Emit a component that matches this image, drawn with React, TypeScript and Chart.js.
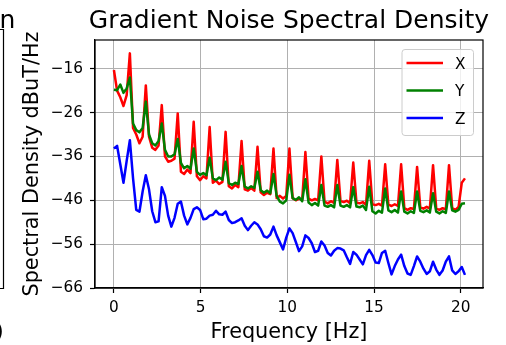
import React, { useEffect, useRef } from 'react';
import { Chart, registerables } from 'chart.js';

Chart.register(...registerables);

const FREQ = [
  0, 0.184, 0.368, 0.552, 0.736, 0.92, 1.104, 1.288, 1.472, 1.656,
  1.84, 2.024, 2.208, 2.392, 2.576, 2.76, 2.944, 3.128, 3.312, 3.496,
  3.68, 3.864, 4.048, 4.232, 4.416, 4.6, 4.784, 4.968, 5.152, 5.336,
  5.52, 5.704, 5.888, 6.072, 6.256, 6.44, 6.624, 6.808, 6.992, 7.176,
  7.36, 7.544, 7.728, 7.912, 8.096, 8.28, 8.464, 8.648, 8.832, 9.016,
  9.2, 9.384, 9.568, 9.752, 9.936, 10.12, 10.304, 10.488, 10.672, 10.856,
  11.04, 11.224, 11.408, 11.592, 11.776, 11.96, 12.144, 12.328, 12.512, 12.696,
  12.88, 13.064, 13.248, 13.432, 13.616, 13.8, 13.984, 14.168, 14.352, 14.536,
  14.72, 14.904, 15.088, 15.272, 15.456, 15.64, 15.824, 16.008, 16.192, 16.376,
  16.56, 16.744, 16.928, 17.112, 17.296, 17.48, 17.664, 17.848, 18.032, 18.216,
  18.4, 18.584, 18.768, 18.952, 19.136, 19.32, 19.504, 19.688, 19.872, 20.056,
  20.24,
];

const X_SERIES = [
  -16.3, -21, -22.5, -24.5, -22, -12.5, -29.5, -31, -33, -31.5,
  -19.8, -31.5, -34, -34.5, -33.5, -24.3, -36, -37.2, -37, -36.5,
  -26.2, -39.5, -40, -39, -39.8, -28.1, -40.5, -41.4, -40.5, -41,
  -29.3, -42, -41.5, -42.3, -41.8, -30.4, -42.8, -43.3, -42.5, -43,
  -32.5, -43.5, -43.8, -43.2, -43.8, -33.8, -44.2, -44.8, -44.3, -44.6,
  -34.2, -45.5, -45, -45.6, -45, -34.2, -45.5, -46, -45.6, -45.9,
  -35, -45.6, -46, -45.7, -46, -36, -46.3, -46.7, -46.2, -46.6,
  -36.8, -46.2, -46.4, -46.1, -46.7, -37.4, -46.5, -46.7, -46.4, -47,
  -37, -46.9, -47.1, -46.8, -47.2, -37.8, -47, -47.3, -46.9, -47.3,
  -37.8, -47.8, -48.2, -47.8, -48, -38.4, -47.6, -47.9, -47.5, -47.9,
  -38, -47.9, -48.2, -47.8, -48.1, -38, -47.8, -48.2, -47.5, -42,
  -41,
];

const Y_SERIES = [
  -20.8, -20.9, -19.6, -21.5, -20.5, -18, -28.5, -30, -30.5, -29.5,
  -23.5, -31, -33, -33.5, -32.5, -28.5, -34.5, -36, -36, -35.5,
  -32, -37.5, -38.7, -38.2, -38.8, -34.2, -39.5, -40.2, -39.8, -40.3,
  -36.3, -41, -41.4, -40.8, -41.3, -37.2, -42.1, -42.5, -42, -42.3,
  -38.2, -42.9, -43.3, -42.8, -43.2, -39.5, -43.7, -44.3, -43.8, -44.4,
  -40, -45, -46.3, -46.7, -46, -40.2, -45.5, -45.9, -45.3, -46.2,
  -41.2, -46.5, -47.1, -46.6, -47.2, -42.5, -47.2, -47.5, -47.1, -47.6,
  -42.5, -47.2, -47.5, -47.1, -47.6, -43, -47.4, -47.6, -47.2, -48.2,
  -42.9, -48.5, -49, -48.4, -48.8, -43.3, -48.3, -48.7, -48.2, -48.8,
  -44, -48.6, -49, -48.5, -48.9, -44, -48.4, -48.7, -48.3, -48.8,
  -44.4, -48.6, -49, -48.5, -48.9, -44, -48.3, -48.6, -48.2, -46.8,
  -46.7,
];

const Z_SERIES = [
  -34.2, -33.6, -37.8, -42, -37, -32.3, -41, -48.2, -48.6, -44,
  -40.3, -43.5, -48.5, -51, -50.8, -43, -45, -49.5, -52, -50,
  -46.8, -46.3, -49.5, -51.5, -50, -48, -47.6, -48.2, -50.3, -50.2,
  -49.5, -49.3, -48.4, -49.2, -49.3, -48.6, -50.5, -51.2, -51, -50.6,
  -50.1, -51.8, -52.8, -51.8, -51, -51.5, -52.6, -54.2, -54.5, -53.8,
  -52, -54, -55.6, -57.2, -54.5, -52.4, -53.5, -55.5, -57.6, -56.5,
  -54, -54.6, -55.8, -57.8, -57.5, -55.4, -56.3, -58, -58.6, -57.5,
  -56.9, -57, -57.4, -59, -60.5, -57.8, -58.4, -59.5, -60.6, -58.5,
  -57.3, -58.5, -60.2, -60.3, -58, -57.5, -60.3, -62.9, -61, -59.5,
  -58.4, -61, -62.7, -63, -61, -58.8, -60, -61.6, -62.8, -62.2,
  -60, -61.8, -63, -62, -60, -58.8, -62, -62.8, -62.2, -61.2,
  -63,
];

const X_TICKS = [0, 5, 10, 15, 20];
const Y_TICKS = [-66, -56, -46, -36, -26, -16];
const SERIES_LABELS = ['X', 'Y', 'Z'];
const SERIES_COLORS = ['#ff0000', '#008000', '#0000ff'];
const TITLE = 'Gradient Noise Spectral Density';
const X_LABEL = 'Frequency [Hz]';
const Y_LABEL = 'Spectral Density dBuT/Hz';
const PREV_TITLE_TAIL = 'n';
const PREV_LABEL_TAIL = ')';

const FONT = '"DejaVu Sans", sans-serif';

const decorPlugin = {
  id: 'decor',
  afterDraw(chart: any) {
    const { ctx, chartArea: a } = chart;
    ctx.save();
    ctx.strokeStyle = '#000';
    ctx.lineWidth = 1.2;
    ctx.strokeRect(a.left, a.top, a.right - a.left, a.bottom - a.top);

    ctx.fillStyle = '#000';
    ctx.textBaseline = 'alphabetic';
    ctx.font = `25px ${FONT}`;
    ctx.textAlign = 'center';
    ctx.fillText(TITLE, (a.left + a.right) / 2, 28);
    ctx.font = `20.8px ${FONT}`;
    ctx.fillText(X_LABEL, (a.left + a.right) / 2, 338);
    ctx.save();
    ctx.translate(37.5, (a.top + a.bottom) / 2);
    ctx.rotate(-Math.PI / 2);
    ctx.fillText(Y_LABEL, 0, 0);
    ctx.restore();

    const bx = a.right - 81;
    const by = a.top + 9.5;
    const bw = 71.5;
    const bh = 86;
    ctx.beginPath();
    ctx.roundRect(bx, by, bw, bh, 3);
    ctx.fillStyle = 'rgba(255,255,255,0.8)';
    ctx.fill();
    ctx.strokeStyle = '#cccccc';
    ctx.lineWidth = 1;
    ctx.stroke();
    ctx.font = `15.3px ${FONT}`;
    ctx.textAlign = 'left';
    SERIES_LABELS.forEach((lab, k) => {
      const ly = by + 13.5 + 27.5 * k;
      ctx.beginPath();
      ctx.moveTo(bx + 4.5, ly);
      ctx.lineTo(bx + 41, ly);
      ctx.strokeStyle = SERIES_COLORS[k];
      ctx.lineWidth = 2.5;
      ctx.stroke();
      ctx.fillStyle = '#000';
      ctx.fillText(lab, bx + 53, ly + 5.6);
    });

    ctx.fillStyle = '#000';
    ctx.font = `25px ${FONT}`;
    ctx.textAlign = 'left';
    ctx.fillText(PREV_TITLE_TAIL, -0.5, 28);
    ctx.font = `20.8px ${FONT}`;
    ctx.fillText(PREV_LABEL_TAIL, -4.5, 338);
    ctx.beginPath();
    ctx.strokeStyle = '#000';
    ctx.lineWidth = 1.2;
    ctx.moveTo(0, 29.5);
    ctx.lineTo(3.5, 29.5);
    ctx.lineTo(3.5, 288.5);
    ctx.lineTo(0, 288.5);
    ctx.stroke();
    ctx.restore();
  },
};

export default function App() {
  const ref = useRef<HTMLCanvasElement | null>(null);

  useEffect(() => {
    document.body.style.margin = '0';
    const canvas = ref.current;
    if (!canvas) return;
    const mk = (vals: number[]) => FREQ.map((f, i) => ({ x: f, y: vals[i] }));
    const chart = new Chart(canvas, {
      type: 'line',
      data: {
        datasets: [X_SERIES, Y_SERIES, Z_SERIES].map((vals, k) => ({
          label: SERIES_LABELS[k],
          data: mk(vals),
          borderColor: SERIES_COLORS[k],
          backgroundColor: SERIES_COLORS[k],
          borderWidth: 2.5,
          borderJoinStyle: 'round' as const,
          pointRadius: 0,
          tension: 0,
          fill: false,
          order: 3 - k,
        })),
      },
      options: {
        animation: false,
        responsive: false,
        devicePixelRatio: 1,
        layout: { padding: { left: 0, right: 23, top: 40, bottom: 0 } },
        plugins: {
          legend: { display: false },
          title: { display: false },
          tooltip: { enabled: false },
        },
        scales: {
          x: {
            type: 'linear',
            min: -1.09,
            max: 21.28,
            afterBuildTicks: (s: any) => {
              s.ticks = X_TICKS.map((v) => ({ value: v }));
            },
            afterFit: (s: any) => {
              s.height = 57;
            },
            ticks: {
              color: '#000',
              font: { family: FONT, size: 15.3 },
              padding: 6,
              maxRotation: 0,
              autoSkip: false,
              callback: (v: any) => String(v),
            },
            grid: {
              color: '#b0b0b0',
              lineWidth: 1,
              tickColor: '#000',
              tickLength: 5,
              tickWidth: 1.2,
            },
            border: { display: true, color: '#000', width: 1.2 },
          },
          y: {
            type: 'linear',
            min: -66,
            max: -9.45,
            afterBuildTicks: (s: any) => {
              s.ticks = Y_TICKS.map((v) => ({ value: v }));
            },
            afterFit: (s: any) => {
              s.width = 95;
            },
            ticks: {
              color: '#000',
              font: { family: FONT, size: 15.3 },
              padding: 7,
              autoSkip: false,
              callback: (v: any) => String(v).replace('-', '\u2212'),
            },
            grid: {
              color: '#b0b0b0',
              lineWidth: 1,
              tickColor: '#000',
              tickLength: 5,
              tickWidth: 1.2,
            },
            border: { display: true, color: '#000', width: 1.2 },
          },
        },
      },
      plugins: [decorPlugin],
    });
    return () => chart.destroy();
  }, []);

  return (
    <canvas
      ref={ref}
      width={506}
      height={345}
      style={{ display: 'block', width: 506, height: 345 }}
    />
  );
}
